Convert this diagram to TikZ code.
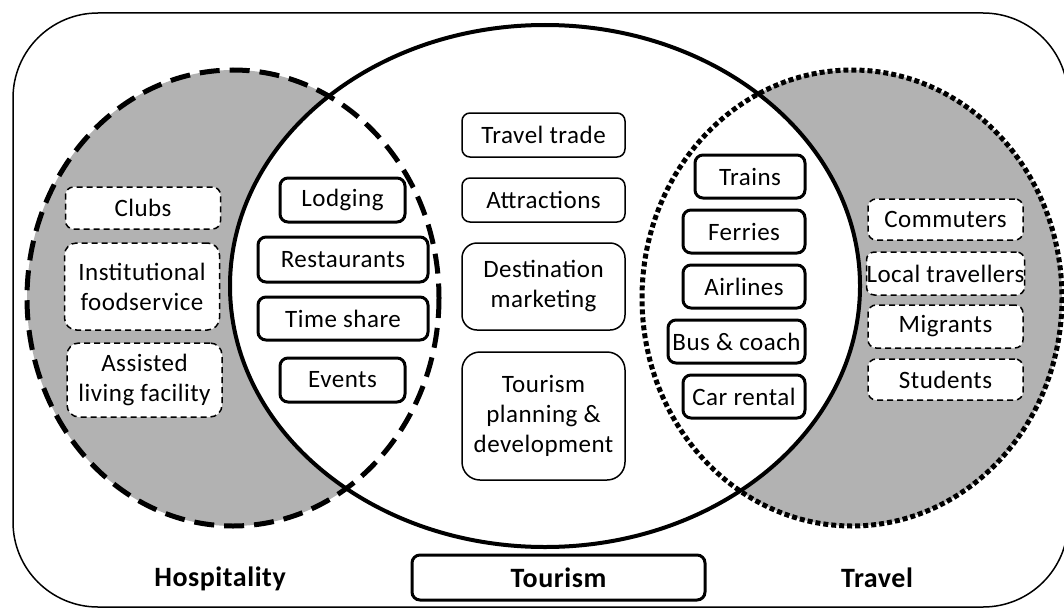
\documentclass[tikz,border=0pt]{standalone}
\usepackage{fontspec}
\setmainfont{Carlito}[LetterSpace=2]
\usepackage{tikz}

\tikzset{
  item/.style={draw, fill=white, rounded corners=8pt, align=center, inner sep=0pt,
    font=\fontsize{25}{30}\selectfont},
  outbox/.style={item, line width=1.5pt, dash pattern=on 6pt off 4pt},
  corebox/.style={item, line width=3pt},
  midbox/.style={item, line width=1.5pt},
  sector/.style={font=\fontsize{28}{32}\selectfont\bfseries}
}

\begin{document}
\begin{tikzpicture}[x=1pt,y=-1pt]
\useasboundingbox (0,0) rectangle (1064,610);
% frame
\draw [line width=1.5pt, rounded corners=85pt] (13,13) rectangle (1068,607);
% grey rims of the two side sets
\fill [black!30] (233,298) ellipse [x radius=206, y radius=228];
\fill [black!30] (852,298) ellipse [x radius=210, y radius=228];
\fill [white] (545,286) ellipse [x radius=315, y radius=261];
% outlines
\draw [line width=4pt] (545,286) ellipse [x radius=315, y radius=261];
\draw [line width=5pt, dash pattern=on 20pt off 10pt] (233,298) ellipse [x radius=206, y radius=228];
\draw [line width=5pt, dash pattern=on 5pt off 3pt] (852,298) ellipse [x radius=210, y radius=228];

% hospitality only
\node [outbox, minimum width=155pt, minimum height=42pt] (clubs) at (143,208) {Clubs};
\node [outbox, minimum width=155pt, minimum height=87pt, rounded corners=12pt] (inst) at (142,286.5) {Institutional\\foodservice};
\node [outbox, minimum width=155pt, minimum height=74pt, rounded corners=12pt] (assist) at (144.5,380) {Assisted\\living facility};

% hospitality and tourism
\node [corebox, minimum width=125pt, minimum height=44pt] (lodging) at (342.5,200) {Lodging};
\node [corebox, minimum width=170pt, minimum height=45pt] (rest) at (343,259.5) {Restaurants};
\node [corebox, minimum width=170pt, minimum height=43pt] (share) at (343,318.5) {Time share};
\node [corebox, minimum width=125pt, minimum height=44pt] (events) at (342.5,380) {Events};

% tourism
\node [midbox, minimum width=163pt, minimum height=44pt] (trade) at (543.5,135) {Travel trade};
\node [midbox, minimum width=163pt, minimum height=44pt] (attr) at (543.5,200) {Attractions};
\node [midbox, minimum width=163pt, minimum height=87pt, rounded corners=15pt] (dest) at (543.5,286.5) {Destination\\marketing};
\node [midbox, minimum width=163pt, minimum height=128pt, rounded corners=18pt] (plan) at (543.5,416) {Tourism\\planning \&\\development};

% travel and tourism
\node [corebox, minimum width=110pt, minimum height=43pt] (trains) at (750,176.5) {Trains};
\node [corebox, minimum width=122pt, minimum height=43pt] (ferries) at (744,231.5) {Ferries};
\node [corebox, minimum width=122pt, minimum height=43pt] (air) at (744,286.5) {Airlines};
\node [corebox, minimum width=137pt, minimum height=43pt] (bus) at (736.5,341.5) {Bus \& coach};
\node [corebox, minimum width=122pt, minimum height=43pt] (car) at (744,396.5) {Car rental};

% travel only
\node [outbox, minimum width=155pt, minimum height=41pt] (comm) at (945.5,219.5) {Commuters};
\node [outbox, minimum width=155pt, minimum height=43pt] (local) at (945.5,273.5) {Local travellers};
\node [outbox, minimum width=155pt, minimum height=43pt] (migr) at (945.5,326.5) {Migrants};
\node [outbox, minimum width=155pt, minimum height=41pt] (stud) at (945.5,379.5) {Students};

% set names
\node [sector] (hosp) at (220,579) {Hospitality};
\node [item, sector, line width=3pt, minimum width=293pt, minimum height=45pt] (tour) at (558.5,577.5) {Tourism};
\node [sector] (trav) at (877,578) {Travel};
\end{tikzpicture}
\end{document}
